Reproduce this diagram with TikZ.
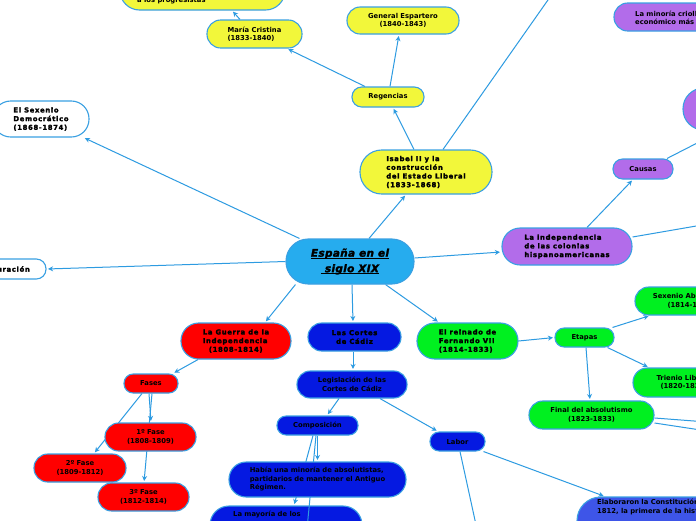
\documentclass[tikz,border=0pt]{standalone}
\usepackage{fontspec}
\setmainfont{DejaVu Sans}
\newfontfamily\hv[FakeBold=2.6,LetterSpace=10]{DejaVu Sans Bold}
\newfontfamily\hvi[FakeBold=2.2,LetterSpace=3]{DejaVu Sans Bold Oblique}
\usetikzlibrary{arrows.meta}
\pgfdeclarelayer{bottom}
\pgfdeclarelayer{background}
\pgfsetlayers{bottom,background,main}
\definecolor{yel}{RGB}{242,247,58}
\definecolor{redc}{RGB}{255,0,0}
\definecolor{dblue}{RGB}{5,25,225}
\definecolor{grn}{RGB}{0,240,32}
\definecolor{purp}{RGB}{178,108,234}
\definecolor{cenc}{RGB}{38,172,238}
\definecolor{elac}{RGB}{62,85,232}
\definecolor{bordc}{RGB}{58,160,226}
\definecolor{linec}{RGB}{45,155,225}
\newcommand\myul[1]{\setbox0\hbox{#1}\rlap{\rule[-2.3pt]{\wd0}{1.2pt}}\box0}
\tikzset{
  box/.style={draw=bordc, line width=1.1pt, inner sep=0pt, text=black,
    font=\fontsize{6.8}{8.5}\selectfont\bfseries},
  hbox/.style={box, font=\hv\fontsize{6.8}{8.7}\selectfont},
  txt/.style={inner sep=0pt, text=black, font=\fontsize{6.8}{8.5}\selectfont\bfseries},
  htxt/.style={inner sep=0pt, text=black, font=\hv\fontsize{6.8}{8.7}\selectfont},
  conn/.style={draw=linec, line width=1pt},
  arr/.style={conn, -{Stealth[length=5pt,width=5pt]}, shorten >=1.5pt},
}
\begin{document}
\begin{tikzpicture}[x=1pt,y=-1pt]
\useasboundingbox (0,0) rectangle (696,520);
\begin{pgfonlayer}{bottom}
\fill[white] (0,0) rectangle (696,520);
\node[box, fill=dblue, minimum width=152pt, minimum height=39pt, rounded corners=19pt] (may) at (286,525.5) {};
\node[txt, anchor=north west] (mayt) at (233,511) {La mayoría de los};
\end{pgfonlayer}

% yellow branch
\node[box, fill=yel, minimum width=165pt, minimum height=40pt, rounded corners=19.5pt] (prog) at (202.5,-10) {};
\node[txt, anchor=base west] (progt) at (137,2.5) {a los progresistas};
\node[box, fill=yel, minimum width=95pt, minimum height=28pt, rounded corners=13.7pt, align=left] (mc) at (254.5,34) {María Cristina\\(1833-1840)};
\node[box, fill=yel, minimum width=112pt, minimum height=27pt, rounded corners=13.2pt, align=center] (esp) at (403,20.5) {General Espartero\\(1840-1843)};
\node[box, fill=yel, minimum width=72pt, minimum height=20pt, rounded corners=9.7pt] (reg) at (388,97) {Regencias};
\node[hbox, fill=yel, minimum width=132pt, minimum height=44pt, rounded corners=21.7pt, align=left] (isa) at (426,172) {Isabel II y la\\construcción\\del Estado Liberal\\(1833-1868)};

% white left nodes
\node[hbox, fill=white, minimum width=96pt, minimum height=36pt, rounded corners=17.7pt, align=left] (sex) at (41,119) {El Sexenio\\Democrático\\(1868-1874)};
\node[box, fill=white, minimum width=106pt, minimum height=20pt, rounded corners=9.7pt] (res) at (-7,269) {};
\node[htxt, anchor=east] (rest) at (30,269) {La Restauración};

% central
\node[box, fill=cenc, minimum width=128pt, minimum height=45pt, rounded corners=22.2pt, align=center, font=\hvi\fontsize{10.5}{15.5}\selectfont] (cen) at (350,261.5) {\myul{España en el}\\\myul{\ siglo XIX}};

% purple branch
\node[hbox, fill=purp, minimum width=130pt, minimum height=37pt, rounded corners=18.2pt, align=left] (ind) at (567,246.5) {La independencia\\de las colonias\\hispanoamericanas};
\node[box, fill=purp, minimum width=60pt, minimum height=20pt, rounded corners=9.7pt] (cau) at (643,169) {Causas};
\node[box, fill=purp, minimum width=117pt, minimum height=42pt, rounded corners=20.7pt] (pur) at (741.5,109) {};
\node[box, fill=purp, minimum width=186pt, minimum height=28pt, rounded corners=13.7pt] (min) at (707,17) {};
\node[txt, anchor=west, align=left] (mint) at (635,18) {La minoría criolla\\económico más};

% red branch
\node[hbox, fill=redc, minimum width=110pt, minimum height=36pt, rounded corners=17.7pt, align=left] (gue) at (236,341) {La Guerra de la\\Independencia\\\hspace*{6pt}(1808-1814)};
\node[box, fill=redc, minimum width=54pt, minimum height=19pt, rounded corners=9.2pt] (fas) at (151,383.5) {Fases};
\node[box, fill=redc, minimum width=91pt, minimum height=28pt, rounded corners=13.7pt, align=center] (f1) at (150.5,437) {1º Fase\\(1808-1809)};
\node[box, fill=redc, minimum width=92pt, minimum height=28pt, rounded corners=13.7pt, align=center] (f2) at (80,468) {2º Fase\\(1809-1812)};
\node[box, fill=redc, minimum width=91pt, minimum height=28pt, rounded corners=13.7pt, align=center] (f3) at (143.5,497) {3º Fase\\(1812-1814)};

% blue branch
\node[hbox, fill=dblue, minimum width=93pt, minimum height=28pt, rounded corners=13.7pt, align=center] (cor) at (354.5,337) {Las Cortes\\de Cádiz};
\node[box, fill=dblue, minimum width=110pt, minimum height=27pt, rounded corners=13.2pt, align=center] (leg) at (352,384.5) {Legislación de las\\Cortes de Cádiz};
\node[box, fill=dblue, minimum width=81pt, minimum height=19pt, rounded corners=9.2pt] (com) at (317.5,425.5) {Composición};
\node[box, fill=dblue, minimum width=55pt, minimum height=19pt, rounded corners=9.2pt] (lab) at (457.5,441.5) {Labor};
\node[box, fill=dblue, minimum width=177pt, minimum height=35pt, rounded corners=17.2pt, align=left] (hab) at (317.5,479.5) {Había una minoría de absolutistas,\\partidarios de mantener el Antiguo\\Régimen.};
\node[box, fill=elac, minimum width=223pt, minimum height=48pt, rounded corners=23.7pt] (ela) at (688.5,521) {};
\node[txt, anchor=north west, align=left] (elat) at (597,499) {Elaboraron la Constitución de\\1812, la primera de la historia};

% green branch
\node[hbox, fill=grn, minimum width=101pt, minimum height=36pt, rounded corners=17.7pt, align=left] (fer) at (467.5,341) {El reinado de\\Fernando VII\\(1814-1833)};
\node[box, fill=grn, minimum width=59pt, minimum height=19pt, rounded corners=9.2pt] (eta) at (584.5,337.5) {Etapas};
\node[box, fill=grn, minimum width=112pt, minimum height=28pt, rounded corners=13.7pt, align=center] (sxa) at (691,301) {Sexenio Absolutista\\(1814-1820)};
\node[box, fill=grn, minimum width=102pt, minimum height=29pt, rounded corners=14.2pt, align=center] (tri) at (684,382.5) {Trienio Liberal\\(1820-1823)};
\node[box, fill=grn, minimum width=125pt, minimum height=28pt, rounded corners=13.7pt, align=center] (fin) at (591.5,415) {Final del absolutismo\\(1823-1833)};

% free ends outside the picture
\coordinate (isaout) at (562,-20);
\coordinate (indout) at (760,215);
\coordinate (finout1) at (760,426);
\coordinate (finout2) at (760,439);
\coordinate (comout) at (304,560);
\coordinate (labout) at (481.5,550);

\begin{pgfonlayer}{background}
\draw[arr] ([xshift=-14.5pt]mc.north) -- ([xshift=29.5pt]prog.south);
\draw[arr] ([xshift=-23pt]reg.north) -- ([xshift=32.5pt]mc.south);
\draw[arr] ([xshift=2pt]reg.north) -- ([xshift=-4pt]esp.south);
\draw[arr] ([xshift=-12pt]isa.north) -- ([xshift=5pt]reg.south);
\draw[conn] ([xshift=17pt]isa.north) -- (isaout);
\draw[arr] ([xshift=19pt]cen.north) -- ([xshift=-20pt]isa.south);
\draw[arr] ([xshift=14pt]cen.north west) -- ([xshift=-6pt]sex.south east);
\draw[arr] (cen.west) -- (res.east);
\draw[arr] ([yshift=3.5pt]cen.east) -- ([yshift=-5.5pt]ind.west);
\draw[arr] ([xshift=20pt]ind.north) -- ([xshift=-10pt]cau.south);
\draw[arr] ([xshift=24pt]cau.north) -- ([xshift=-20pt]pur.south);
\draw[conn] ([yshift=9.5pt]ind.east) -- (indout);
\draw[arr] ([xshift=10pt]cen.south west) -- ([xshift=29pt]gue.north);
\draw[arr] ([xshift=-38pt]gue.south) -- ([xshift=22pt]fas.north);
\draw[arr] ([xshift=-2pt]fas.south) -- ([xshift=0.5pt]f1.north);
\draw[arr] ([xshift=1pt]fas.south) -- ([xshift=0.5pt]f3.north);
\draw[arr] ([xshift=-9pt]fas.south) -- ([xshift=14pt]f2.north);
\draw[arr] ([xshift=2pt]cen.south) -- ([xshift=-1.5pt]cor.north);
\draw[arr] ([xshift=-1.5pt]cor.south) -- ([xshift=1pt]leg.north);
\draw[arr] ([xshift=-13pt]leg.south) -- ([xshift=9.5pt]com.north);
\draw[arr] ([xshift=28pt]leg.south) -- ([xshift=-19.5pt]lab.north);
\draw[arr] (com.south) -- (hab.north);
\draw[arr] ([xshift=-4.5pt]com.south) -- ([xshift=8pt]may.north);
\draw[conn] ([xshift=-1.5pt]com.south) -- (comout);
\draw[arr] ([xshift=-2pt]lab.south east) -- ([xshift=-83.5pt]ela.north);
\draw[conn] ([xshift=2.5pt]lab.south) -- (labout);
\draw[arr] ([xshift=-29pt]cen.south east) -- ([xshift=-28.5pt]fer.north);
\draw[arr] (fer.east) -- (eta.west);
\draw[arr] ([xshift=-2pt]eta.north east) -- ([xshift=-41pt]sxa.south);
\draw[arr] ([xshift=-7pt]eta.south east) -- ([xshift=-35pt]tri.north);
\draw[arr] ([xshift=1.5pt]eta.south) -- ([xshift=-1.5pt]fin.north);
\draw[conn] ([yshift=-3pt]fin.east) -- (finout1);
\draw[conn] ([yshift=-8pt]fin.east) -- (finout2);
\end{pgfonlayer}
\end{tikzpicture}
\end{document}
